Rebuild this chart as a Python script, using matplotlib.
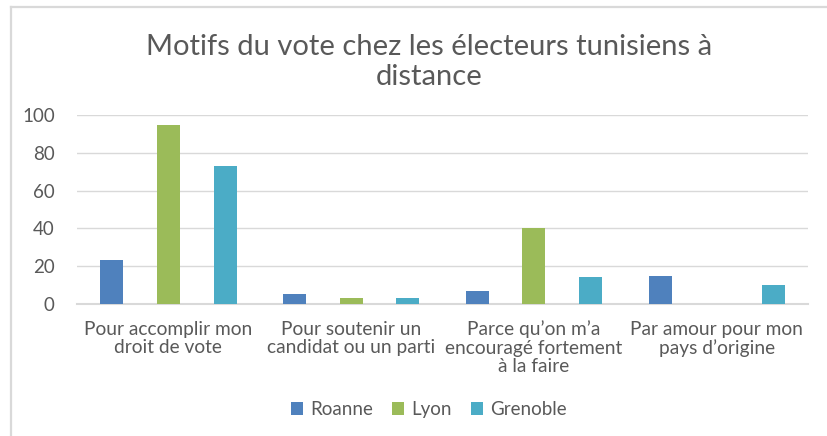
import numpy as np
import matplotlib.pyplot as plt
from matplotlib.lines import Line2D

plt.rcParams['font.family'] = ['Lato', 'DejaVu Sans']

categories = ["Pour accomplir mon\ndroit de vote",
              "Pour soutenir un\ncandidat ou un parti",
              "Parce qu\u2019on m\u2019a\nencouragé fortement\nà la faire",
              "Par amour pour mon\npays d\u2019origine"]
villes = ["Roanne", "Lyon", "Grenoble"]
roanne = [23, 5, 7, 15]
lyon = [95, 3, 40, 0]
grenoble = [73, 3, 14, 10]
couleurs = ["#4F81BD", "#9BBB59", "#4BACC6"]
yticks = [0, 20, 40, 60, 80, 100]

gris = "#595959"

fig = plt.figure(figsize=(8.28, 4.36), dpi=100)
ax = fig.add_axes([0.093, 0.303, 0.883, 0.433])

x = np.arange(len(categories))
largeur = 0.126
decal = 0.31
for i, (vals, nom) in enumerate(zip([roanne, lyon, grenoble], villes)):
    ax.bar(x + (i - 1) * decal, vals, width=largeur, color=couleurs[i],
           label=nom, zorder=3)

ax.set_xlim(-0.5, len(categories) - 0.5)
ax.set_ylim(0, 100)
ax.set_yticks(yticks)
ax.set_yticklabels([str(t) for t in yticks], color=gris, fontsize=13.5)
ax.set_xticks(x)
ax.set_xticklabels(categories, color=gris, fontsize=13.8, linespacing=1.1)
ax.tick_params(axis='both', length=0)
ax.tick_params(axis='x', pad=12)
ax.tick_params(axis='y', pad=16)
ax.grid(axis='y', color="#D9D9D9", linewidth=1, zorder=0)
for s in ['top', 'right', 'left']:
    ax.spines[s].set_visible(False)
ax.spines['bottom'].set_color("#D9D9D9")
ax.spines['bottom'].set_linewidth(1.5)

fig.text(0.518, 0.858, "Motifs du vote chez les électeurs tunisiens à\ndistance",
         ha='center', va='center', fontsize=21, color=gris, linespacing=1.2)

ax.legend(loc='center', ncol=3, frameon=False, fontsize=13.5, labelcolor=gris,
          handlelength=0.65, handleheight=0.65, handletextpad=0.4, columnspacing=1.0)
leg = ax.get_legend()
leg.set_bbox_to_anchor((0.518, 0.06), transform=fig.transFigure)

# cadre gris clair
fig.add_artist(Line2D([11 / 828, 1], [1 - 7 / 436, 1 - 7 / 436], color="#D9D9D9", linewidth=1.6))
fig.add_artist(Line2D([11 / 828, 11 / 828], [0, 1 - 7 / 436], color="#D9D9D9", linewidth=1.6))

fig.savefig("out.png", dpi=100, facecolor='white')
